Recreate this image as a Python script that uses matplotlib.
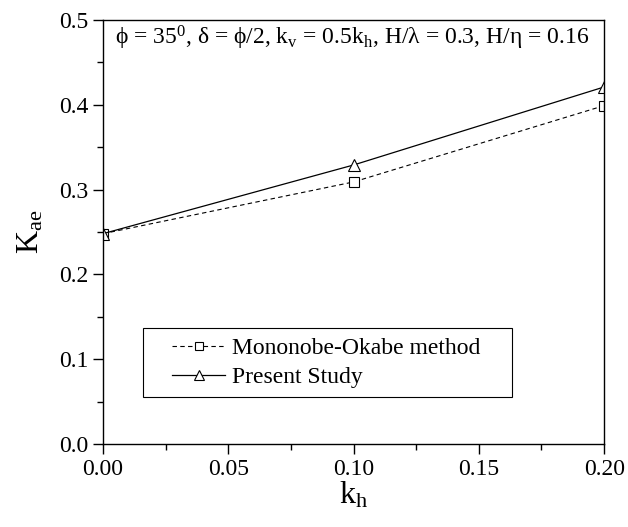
import matplotlib
matplotlib.use('Agg')
import matplotlib.pyplot as plt
from matplotlib.ticker import MultipleLocator
from matplotlib.patches import Rectangle

plt.rcParams['font.family'] = ['Liberation Serif', 'DejaVu Serif']
plt.rcParams['mathtext.fontset'] = 'custom'
plt.rcParams['mathtext.rm'] = 'Liberation Serif'
plt.rcParams['mathtext.it'] = 'Liberation Serif'

kh = [0.0, 0.1, 0.2]
mononobe = [0.248, 0.309, 0.399]
present = [0.248, 0.329, 0.421]

fig = plt.figure(figsize=(6.28, 5.27), dpi=100)
ax = fig.add_axes([0.164, 0.1575, 0.798, 0.8046])

ax.plot(kh, mononobe, color='black', lw=0.8, ls=(0, (4, 3)), marker='s',
        ms=7, mfc='white', mec='black', mew=0.8, label='Mononobe-Okabe method')
ax.plot(kh, present, color='black', lw=0.9, marker='^',
        ms=8, mfc='white', mec='black', mew=0.8, label='Present Study')

ax.set_xlim(0, 0.2)
ax.set_ylim(0, 0.5)
ax.xaxis.set_major_locator(MultipleLocator(0.05))
ax.xaxis.set_minor_locator(MultipleLocator(0.025))
ax.yaxis.set_major_locator(MultipleLocator(0.1))
ax.yaxis.set_minor_locator(MultipleLocator(0.05))
ax.xaxis.set_major_formatter(plt.FuncFormatter(lambda v, p: '%.2f' % v))
ax.yaxis.set_major_formatter(plt.FuncFormatter(lambda v, p: '%.1f' % v))
ax.tick_params(which='major', direction='out', length=7, width=1, labelsize=17)
ax.tick_params(which='minor', direction='out', length=4, width=1)
for s in ax.spines.values():
    s.set_linewidth(1)

ax.set_xlabel('k$_\\mathrm{h}$', fontsize=23, labelpad=0)
ax.set_ylabel('K$_\\mathrm{ae}$', fontsize=23, labelpad=10)

ax.text(0.024, 0.957,
        'ϕ = 35$^0$, δ = ϕ/2, k$_\\mathrm{v}$ = 0.5k$_\\mathrm{h}$, '
        'H/λ = 0.3, H/η = 0.16',
        transform=ax.transAxes, fontsize=17, va='center', ha='left')

# legend box drawn separately (wider side padding than matplotlib's borderpad)
ax.add_patch(Rectangle((0.08, 0.111), 0.736, 0.163, transform=ax.transAxes,
                       fill=True, facecolor='white', edgecolor='black', lw=0.8,
                       zorder=4))
leg = ax.legend(loc='center left', bbox_to_anchor=(0.138, 0.192), fontsize=17,
                frameon=False, handlelength=2.25, borderpad=0, borderaxespad=0,
                labelspacing=0.32, handletextpad=0.3, markerscale=0.9)
leg.set_zorder(5)

fig.savefig('out.png', dpi=100)
